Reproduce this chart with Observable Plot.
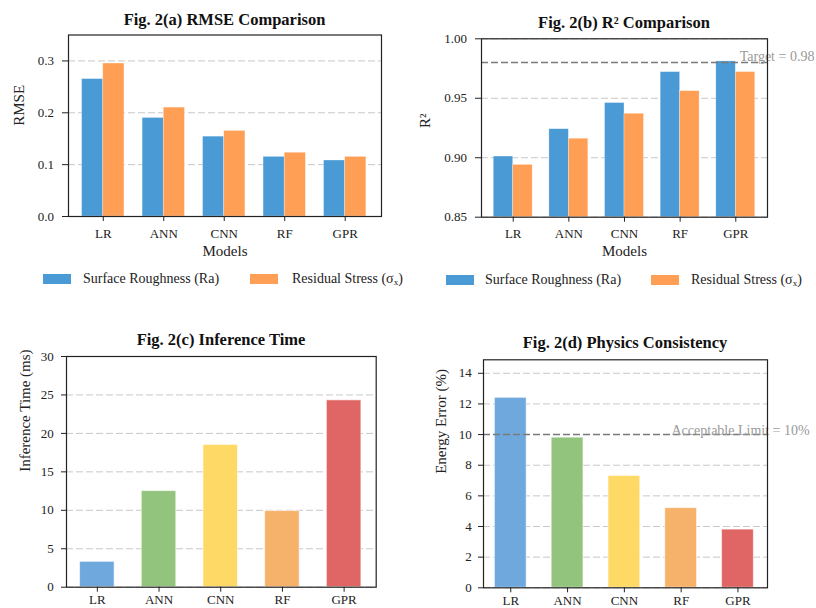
<!DOCTYPE html>
<html>
<head>
<meta charset="utf-8">
<script src="https://cdn.jsdelivr.net/npm/d3@7"></script>
<script src="https://cdn.jsdelivr.net/npm/@observablehq/plot@0.6"></script>
<style>
  body { margin: 0; background: #fff; }
  #root { position: relative; width: 816px; height: 608px; overflow: hidden; background: #fff; font-family: "Liberation Serif", "DejaVu Serif", serif; color: #222; }
  .panel { position: absolute; }
  .panel svg { overflow: visible; background: transparent !important; }
  .title { position: absolute; transform: translate(-50%, -50%); white-space: nowrap; font-weight: bold; font-size: 16.5px; color: #111; }
  .swatch { position: absolute; width: 28px; height: 10px; transform: translateY(-50%); }
  .legtext { position: absolute; transform: translateY(-50%); white-space: nowrap; font-size: 14px; color: #222; }
  .legtext sub { font-size: 9px; vertical-align: -2px; }
</style>
</head>
<body>
<div id="root"></div>
<script>
// ---------------- data ----------------
const models = ["LR", "ANN", "CNN", "RF", "GPR"];
const seriesNames = ["Surface Roughness (Ra)", "Residual Stress (σ<sub>x</sub>)"];
const seriesColors = ["#4a9bd5", "#ff9f55"];

const rmseRa    = [0.265, 0.190, 0.154, 0.115, 0.108];
const rmseSigma = [0.295, 0.210, 0.165, 0.123, 0.115];
const rmseTicks = [0.0, 0.1, 0.2, 0.3];

const r2Ra    = [0.901, 0.924, 0.946, 0.972, 0.981];
const r2Sigma = [0.894, 0.916, 0.937, 0.956, 0.972];
const r2Ticks = [0.85, 0.90, 0.95, 1.00];
const r2Target = 0.98;
const r2TargetLabel = "Target = 0.98";

const inferenceMs = [3.3, 12.5, 18.5, 9.9, 24.3];
const inferenceTicks = [0, 5, 10, 15, 20, 25, 30];

const energyError = [12.4, 9.8, 7.3, 5.2, 3.8];
const energyTicks = [0, 2, 4, 6, 8, 10, 12, 14];
const energyLimit = 10;
const energyLimitLabel = "Acceptable Limit = 10%";

const modelColors = ["#6fa8dc", "#93c47d", "#ffd966", "#f6b26b", "#e06666"];

// ---------------- helpers ----------------
const root = document.getElementById("root");
const FONT = "Liberation Serif";
const gridStyle = {stroke: "#c8c8c8", strokeOpacity: 1, strokeDasharray: "7,3", strokeWidth: 1};
const refStyle = {stroke: "#7a7a7a", strokeDasharray: "7,3", strokeWidth: 1.5};

function place(node, left, top) {
  const d = document.createElement("div");
  d.className = "panel";
  d.style.left = left + "px";
  d.style.top = top + "px";
  d.appendChild(node);
  root.appendChild(d);
}
function title(text, x, y) {
  const d = document.createElement("div");
  d.className = "title";
  d.style.left = x + "px"; d.style.top = y + "px";
  d.textContent = text;
  root.appendChild(d);
}
function legend(y, swatchX, textX) {
  seriesNames.forEach((name, s) => {
    const sw = document.createElement("div");
    sw.className = "swatch";
    sw.style.left = swatchX[s] + "px"; sw.style.top = y + "px";
    sw.style.background = seriesColors[s];
    root.appendChild(sw);
    const t = document.createElement("div");
    t.className = "legtext";
    t.style.left = textX[s] + "px"; t.style.top = y + "px";
    t.innerHTML = name;
    root.appendChild(t);
  });
}
function groupedRows(a, b) {
  return models.flatMap((m, i) => [
    {i, model: m, s: 0, value: a[i]},
    {i, model: m, s: 1, value: b[i]}
  ]);
}
const barW = 0.35;

function groupedPlot({rows, width, height, margins, xDomain, yDomain, yTicks, yFormat, yLabel, yLabelDx, yPad, extra = []}) {
  return Plot.plot({
    width, height,
    marginLeft: margins[0], marginRight: margins[1], marginTop: margins[2], marginBottom: margins[3],
    style: {fontFamily: FONT, fontSize: "13px", color: "#222", background: "transparent"},
    x: {type: "linear", domain: xDomain},
    y: {domain: yDomain},
    color: {type: "identity"},
    marks: [
      Plot.gridY(yTicks, gridStyle),
      Plot.rect(rows, {
        x1: d => d.i + (d.s === 0 ? -barW : 0),
        x2: d => d.i + (d.s === 0 ? 0 : barW),
        y1: yDomain[0], y2: "value",
        fill: d => seriesColors[d.s],
        stroke: "#ffffff", strokeOpacity: 0.5, strokeWidth: 0.6
      }),
      ...extra,
      Plot.frame({stroke: "#222", strokeWidth: 1.2}),
      Plot.axisY({ticks: yTicks, tickFormat: yFormat, tickSize: 6, tickPadding: yPad, label: null, fontSize: 13}),
      Plot.axisX({ticks: models.map((m, i) => i), tickFormat: i => models[i], tickSize: 5, tickPadding: 7, label: null, fontSize: 13}),
      Plot.text(["Models"], {frameAnchor: "bottom", dy: 39, fontSize: 15}),
      Plot.text([yLabel], {frameAnchor: "left", dx: yLabelDx, rotate: -90, fontSize: 15})
    ]
  });
}

function singlePlot({values, width, height, margins, xDomain, yDomain, yTicks, yLabel, yLabelDx, yPad, extra = []}) {
  const rows = models.map((m, i) => ({i, model: m, value: values[i], color: modelColors[i]}));
  const w = 0.28;
  return Plot.plot({
    width, height,
    marginLeft: margins[0], marginRight: margins[1], marginTop: margins[2], marginBottom: margins[3],
    style: {fontFamily: FONT, fontSize: "13px", color: "#222", background: "transparent"},
    x: {type: "linear", domain: xDomain},
    y: {domain: yDomain},
    color: {type: "identity"},
    marks: [
      Plot.gridY(yTicks, gridStyle),
      Plot.rect(rows, {
        x1: d => d.i - w, x2: d => d.i + w,
        y1: 0, y2: "value",
        fill: "color", stroke: "#ffffff", strokeOpacity: 0.6, strokeWidth: 1
      }),
      ...extra,
      Plot.frame({stroke: "#222", strokeWidth: 1.2}),
      Plot.axisY({ticks: yTicks, tickFormat: d3.format("d"), tickSize: 5, tickPadding: yPad, label: null, fontSize: 13}),
      Plot.axisX({ticks: models.map((m, i) => i), tickFormat: i => models[i], tickSize: 5, tickPadding: 3, label: null, fontSize: 13}),
      Plot.text([yLabel], {frameAnchor: "left", dx: yLabelDx, rotate: -90, fontSize: 15})
    ]
  });
}

// ---------------- (a) RMSE ----------------
place(groupedPlot({
  rows: groupedRows(rmseRa, rmseSigma),
  width: 408, height: 265, margins: [68, 27, 34.5, 49],
  xDomain: [-0.575, 4.6], yDomain: [0, 0.35],
  yTicks: rmseTicks, yFormat: d3.format(".1f"),
  yLabel: "RMSE", yLabelDx: -49, yPad: 8.5
}), 0, 0);
title("Fig. 2(a) RMSE Comparison", 224.5, 20);
legend(279, [43, 250], [83, 292]);

// ---------------- (b) R² ----------------
place(groupedPlot({
  rows: groupedRows(r2Ra, r2Sigma),
  width: 408, height: 265, margins: [73, 49, 38.3, 48.3],
  xDomain: [-0.57, 4.57], yDomain: [0.85, 1.0],
  yTicks: r2Ticks, yFormat: d3.format(".2f"),
  yLabel: "R²", yLabelDx: -56, yPad: 8.5,
  extra: [
    Plot.ruleY([r2Target], refStyle),
    Plot.text([{x: 4.07, y: r2Target, label: r2TargetLabel}], {x: "x", y: "y", text: "label", textAnchor: "start", dy: -6.5, fill: "#9a9a9a", fontSize: 14})
  ]
}), 408, 0);
title("Fig. 2(b) R² Comparison", 624, 23);
legend(280, [446, 651], [485, 691]);

// ---------------- (c) Inference time ----------------
place(singlePlot({
  values: inferenceMs,
  width: 408, height: 304, margins: [66, 32.3, 52, 21.3],
  xDomain: [-0.5, 4.52], yDomain: [0, 30],
  yTicks: inferenceTicks, yLabel: "Inference Time (ms)", yLabelDx: -41, yPad: 7.7
}), 0, 304);
title("Fig. 2(c) Inference Time", 221, 340);

// ---------------- (d) Physics consistency ----------------
place(singlePlot({
  values: energyError,
  width: 408, height: 304, margins: [75, 49, 55.3, 20.7],
  xDomain: [-0.48, 4.52], yDomain: [0, 14.88],
  yTicks: energyTicks, yLabel: "Energy Error (%)", yLabelDx: -42, yPad: 6.7,
  extra: [
    Plot.ruleY([energyLimit], refStyle),
    Plot.text([{x: 2.83, y: energyLimit, label: energyLimitLabel}], {x: "x", y: "y", text: "label", textAnchor: "start", dy: -4.5, fill: "#9a9a9a", fontSize: 14})
  ]
}), 408, 304);
title("Fig. 2(d) Physics Consistency", 625, 343);
</script>
</body>
</html>
